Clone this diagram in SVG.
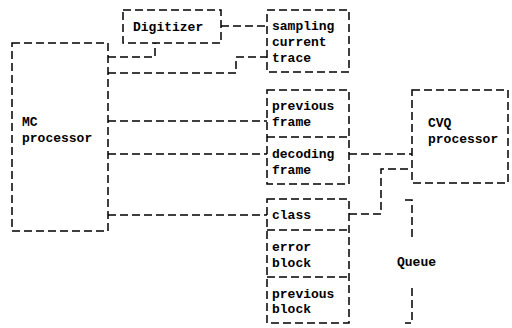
<svg xmlns="http://www.w3.org/2000/svg" width="512" height="328" viewBox="0 0 512 328">
<style>
.b{fill:none;stroke:#000;stroke-width:1.5;stroke-dasharray:8 4}
.c{fill:none;stroke:#000;stroke-width:1.5;stroke-dasharray:8 4}
text{font-family:"Liberation Mono","DejaVu Sans Mono",monospace;font-size:13px;font-weight:bold;fill:#000}
</style>
<rect width="512" height="328" fill="#fff"/>
<g id="mc">
<rect class="b" x="12" y="43" width="96" height="188"/>
<text x="22" y="126">MC</text>
<text x="22" y="142">processor</text>
</g>
<g id="digitizer">
<rect class="b" x="123" y="10" width="98" height="33"/>
<text x="133" y="31">Digitizer</text>
</g>
<g id="sampling">
<rect class="b" x="267" y="10" width="82" height="62"/>
<text x="272" y="30">sampling</text>
<text x="272" y="46">current</text>
<text x="272" y="62">trace</text>
</g>
<g id="frames">
<rect class="b" x="267" y="90" width="82" height="94"/>
<path class="b" d="M267 137H349"/>
<text x="272" y="110">previous</text>
<text x="272" y="126">frame</text>
<text x="272" y="158">decoding</text>
<text x="272" y="174">frame</text>
</g>
<g id="blocks">
<rect class="b" x="267" y="199" width="82" height="124"/>
<path class="b" d="M267 230H349M267 277H349"/>
<text x="272" y="219">class</text>
<text x="272" y="251">error</text>
<text x="272" y="267">block</text>
<text x="272" y="298">previous</text>
<text x="272" y="313">block</text>
</g>
<g id="cvq">
<rect class="b" x="412" y="90" width="96" height="93"/>
<text x="428" y="127">CVQ</text>
<text x="428" y="143">processor</text>
</g>
<g id="queue">
<path class="b" d="M405 200H412V238M412 288V323H405"/>
<text x="397" y="266">Queue</text>
</g>
<g id="connectors">
<path class="c" d="M221 26H267"/>
<path class="c" d="M108 57H155V43"/>
<path class="c" d="M108 73H236V57H267"/>
<path class="c" d="M108 121H267"/>
<path class="c" d="M108 154H267"/>
<path class="c" d="M349 154H412"/>
<path class="c" d="M108 215H267"/>
<path class="c" d="M349 214H381V169H412"/>
</g>
</svg>
